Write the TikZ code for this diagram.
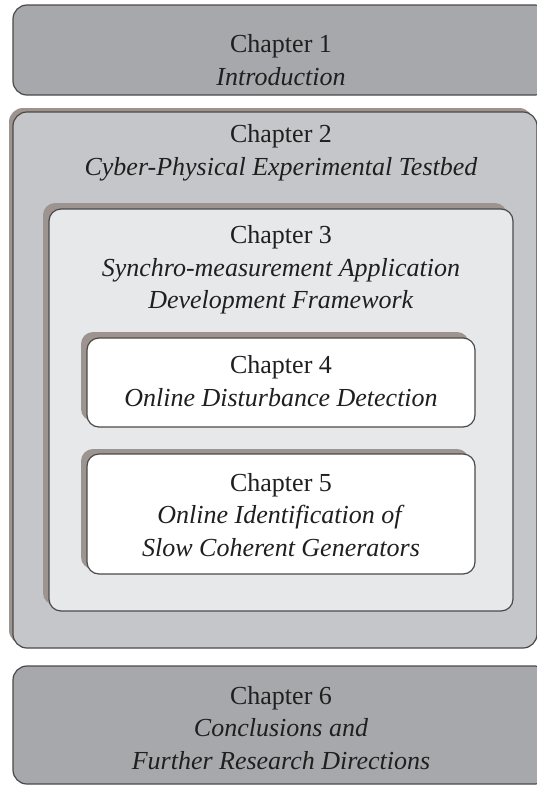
\documentclass[tikz,border=0pt]{standalone}
\usepackage{fontspec}
\setmainfont{Liberation Serif}
\usepackage{tikz}

\definecolor{darkbox}{HTML}{A7A8AB}
\definecolor{midbox}{HTML}{C5C6C9}
\definecolor{lightbox}{HTML}{E7E8E9}
\definecolor{shade}{HTML}{9D948F}
\definecolor{edge}{HTML}{4A4A4C}

\begin{document}
\begin{tikzpicture}[x = 1pt, y = -1pt,
    chap/.style = {draw=edge, line width=1.2pt, rounded corners=14pt},
    inner/.style = {draw=edge, line width=1.2pt, rounded corners=12pt},
    shadow/.style = {fill=shade, rounded corners=12pt},
    title/.style = {font=\fontsize{26}{32.5}\selectfont, text=black!88, align=center, inner sep=0pt}]
        \useasboundingbox (0,0) rectangle (537,785);
        \clip (0,0) rectangle (537,785);
        % outer boxes
        \draw[chap, fill=darkbox] (13,5) rectangle (549,95);
        \fill[shadow, rounded corners=14pt] (9,108) rectangle (533,644);
        \draw[chap, fill=midbox] (13,112) rectangle (537,648);
        \draw[chap, fill=darkbox] (13,666) rectangle (549,784);
        % nested boxes
        \fill[shadow] (43,203) rectangle (507,605);
        \draw[inner, fill=lightbox] (49,209) rectangle (513,611);
        \fill[shadow] (81,332) rectangle (469,421);
        \draw[inner, fill=white] (87,338) rectangle (475,427);
        \fill[shadow] (81,449) rectangle (469,569);
        \draw[inner, fill=white] (87,454) rectangle (475,574);
        % titles
        \node[title] (ch1) at (281,60) {Chapter 1\\\textit{Introduction}};
        \node[title] (ch2) at (281,153) {Chapter 2\\\textit{Cyber-Physical Experimental Testbed}};
        \node[title] (ch3) at (281,270) {Chapter 3\\\textit{Synchro-measurement Application}\\\textit{Development Framework}};
        \node[title] (ch4) at (281,381) {Chapter 4\\\textit{Online Disturbance Detection}};
        \node[title] (ch5) at (281,515) {Chapter 5\\\textit{Online Identification of}\\\textit{Slow Coherent Generators}};
        \node[title] (ch6) at (281,728) {Chapter 6\\\textit{Conclusions and}\\\textit{Further Research Directions}};
      \end{tikzpicture}
\end{document}
